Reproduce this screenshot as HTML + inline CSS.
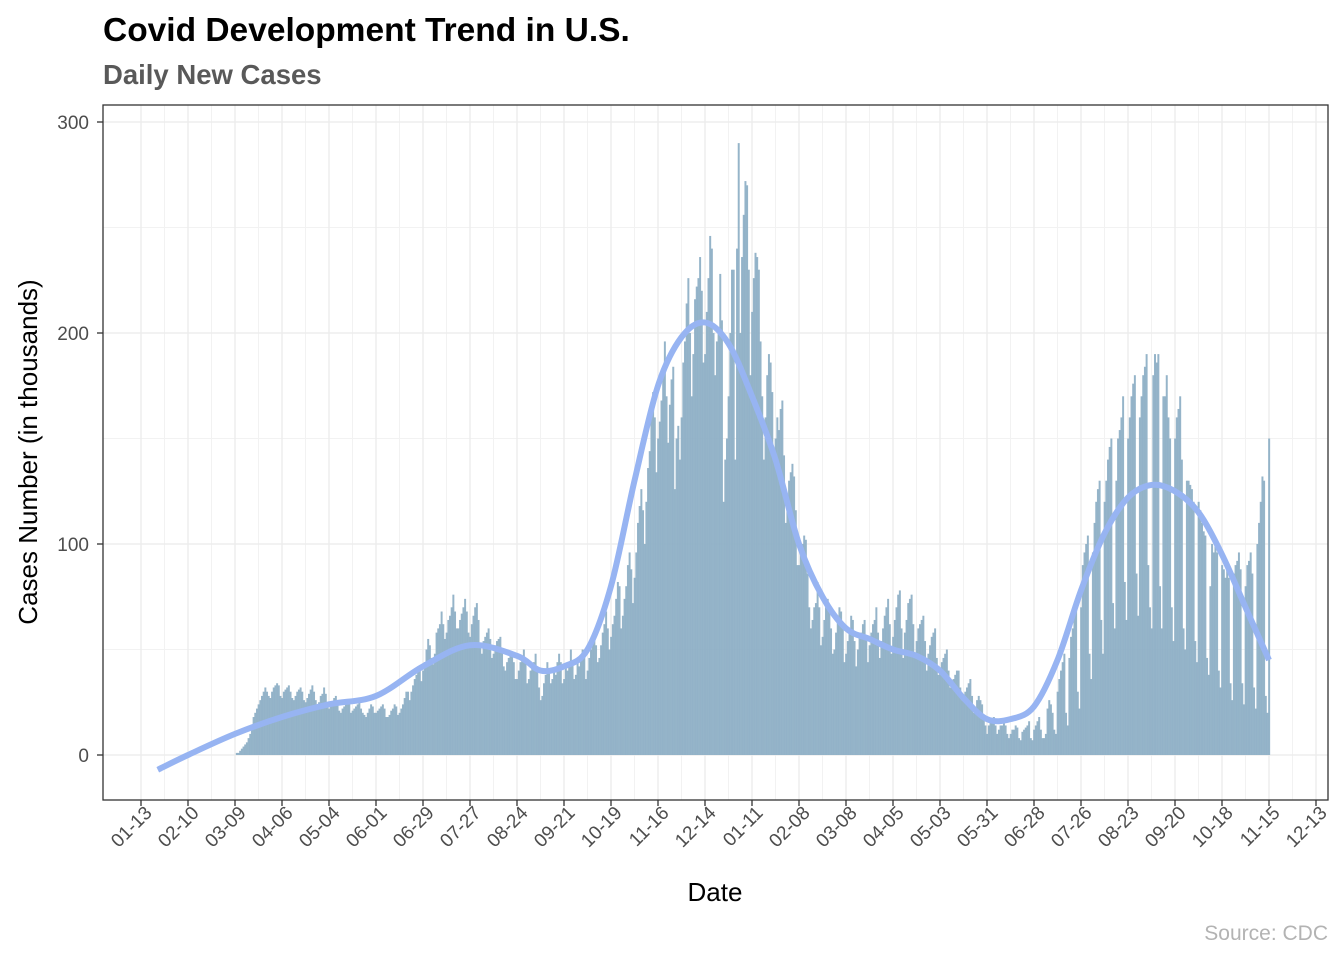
<!DOCTYPE html>
<html><head><meta charset="utf-8"><style>
html,body{margin:0;padding:0;background:#fff;}
svg{display:block;font-family:"Liberation Sans",Arial,sans-serif;}
</style></head><body>
<svg id="chart" width="1344" height="960">
<text x="103" y="41" font-size="33.5" font-weight="bold" fill="#000">Covid Development Trend in U.S.</text>
<text x="103" y="84" font-size="27.5" font-weight="bold" fill="#595959">Daily New Cases</text>
<g id="grid"></g>
<g id="bars"></g>
<path id="trend" fill="none" stroke="#97B4F2" stroke-width="6" stroke-linejoin="round"></path>
<rect x="103" y="105" width="1225" height="695" fill="none" stroke="#333" stroke-width="1.3"></rect>
<g id="axes"></g>
<text x="715" y="901" font-size="26" text-anchor="middle" fill="#000">Date</text>
<text transform="translate(37,452) rotate(-90)" font-size="26" text-anchor="middle" fill="#000">Cases Number (in thousands)</text>
<text x="1328" y="940" font-size="21" text-anchor="end" fill="#B3B3B3">Source: CDC</text>
</svg>
<script>
const yTicks=[0,100,200,300];
const xTickLabels=["01-13","02-10","03-09","04-06","05-04","06-01","06-29","07-27","08-24","09-21","10-19","11-16","12-14","01-11","02-08","03-08","04-05","05-03","05-31","06-28","07-26","08-23","09-20","10-18","11-15","12-13"];
// daily new cases (thousands) starting 2020-03-09
const dailyCases=[
0,1,1,2,3,4,5, 6,8,10,14,18,20,22, 24,26,28,30,32,30,28, 27,30,32,33,34,33,28,
27,30,31,32,33,30,27, 26,28,30,31,32,30,26, 25,27,29,31,33,30,26, 23,25,28,29,32,29,24,
22,23,25,27,28,26,21, 20,22,23,26,26,24,20, 21,22,23,24,25,22,20, 19,18,20,22,24,23,20,
20,21,22,23,24,22,18, 18,19,21,22,24,23,19, 20,22,24,27,30,30,26, 30,33,36,38,42,40,35,
40,44,50,55,52,46,43, 48,58,60,62,68,62,55, 58,64,66,70,76,68,60, 60,64,67,70,74,68,58,
56,62,66,70,72,64,52, 48,54,56,58,60,55,46, 48,52,54,55,56,50,42, 40,44,46,47,48,44,36,
36,40,44,46,50,44,34, 36,40,42,44,48,42,32, 26,28,34,38,44,40,34, 36,40,38,44,48,44,34,
36,42,40,44,50,44,36, 38,44,42,46,50,48,36, 40,46,50,56,58,52,44, 46,52,58,62,68,60,50,
56,62,66,74,82,80,60, 66,74,80,90,96,88,72, 84,96,110,118,126,116,100, 120,136,144,160,172,160,134,
150,158,168,180,196,170,148, 166,178,184,126,150,156,140, 160,186,196,214,226,200,170, 190,216,222,226,236,220,186,
190,210,226,246,240,200,180, 196,200,228,206,120,140,150, 170,200,230,230,140,240,290, 200,236,256,272,270,230,180,
210,226,238,236,230,196,170, 140,160,180,190,186,172,140, 150,160,154,164,168,142,110, 120,130,134,138,132,116,90,
90,96,100,104,102,86,70, 60,64,70,72,82,70,52, 56,64,70,74,70,60,48, 50,58,66,70,68,60,44,
48,54,60,66,64,54,42, 50,56,58,62,64,56,44, 52,58,62,64,70,58,46, 54,60,66,70,74,62,48,
56,64,70,76,78,60,46, 58,64,72,74,76,62,48, 54,60,62,64,66,54,40, 48,52,56,58,60,46,38,
40,44,46,48,50,40,32, 34,36,38,40,40,32,26, 28,30,32,34,36,28,20, 22,26,28,26,24,18,14,
10,14,16,16,18,14,10, 12,14,14,15,14,10,8, 10,12,12,14,13,8,7, 11,12,13,14,16,8,7,
12,14,16,18,12,8,8, 10,22,26,24,20,12,10, 30,36,40,44,48,20,14, 46,56,60,66,70,30,22,
70,90,96,100,104,48,36, 96,110,120,126,130,64,48, 120,130,140,146,150,72,60, 130,150,154,160,170,82,64,
150,160,170,176,180,86,66, 160,170,180,184,190,90,70, 60,180,190,186,190,80,60, 170,170,180,160,150,70,54,
150,160,164,170,140,60,50, 130,130,128,126,120,54,44, 120,116,110,106,104,46,38, 80,100,96,100,96,40,32,
90,88,84,90,84,34,26, 86,90,92,96,88,34,24, 80,90,92,96,86,32,22, 100,110,120,132,130,28,20,
150];
// smoothed trend: day offset from 2020-01-13 and value (thousands)
const trendDays=[10,28,56,84,112,140,168,196,224,238,252,266,280,294,308,322,336,350,364,378,392,406,420,434,448,462,476,490,504,518,532,546,560,574,588,602,616,630,644,658,672];
const trendVals=[-7,0,10,18,24,28,42,52,47,40,42,50,80,130,175,198,205,195,170,140,100,75,60,55,50,47,40,27,17,17,23,45,78,105,122,128,125,115,95,70,45];

const NS="http://www.w3.org/2000/svg";
const X0=141, PXD=1175/700, startOffset=56;
const xDay=d=>X0+d*PXD;
const yV=v=>755-2.11*v;
function mk(tag,attrs,parent){const e=document.createElementNS(NS,tag);for(const k in attrs)e.setAttribute(k,attrs[k]);parent.appendChild(e);return e;}
const grid=document.getElementById('grid'),axes=document.getElementById('axes'),bars=document.getElementById('bars');
[50,150,250].forEach(v=>{
  const l=mk('line',{x1:103,x2:1328,y1:yV(v),y2:yV(v),stroke:'#F2F2F2','stroke-width':1},grid);
  
  
});
for(let i=0;i<xTickLabels.length;i++){
  const x=xDay(i*28);
  const l=mk('line',{x1:x,x2:x,y1:105,y2:800,stroke:'#EBEBEB','stroke-width':1.3},grid);
  
  
  if(i<xTickLabels.length-1){
    const xm=xDay(i*28+14);
    const m=mk('line',{x1:xm,x2:xm,y1:105,y2:800,stroke:'#F2F2F2','stroke-width':1},grid);
    
    
  }
  const t=mk('line',{x1:x,x2:x,y1:800,y2:806,stroke:'#333','stroke-width':1.3},axes);
  
  
  const tx=mk('text',{transform:`translate(${x+12},814) rotate(-45)`,'text-anchor':'end','font-size':19,fill:'#4D4D4D'},axes);
  tx.textContent=xTickLabels[i];
  
  
}
yTicks.forEach(v=>{
  const y=yV(v);
  const l=mk('line',{x1:103,x2:1328,y1:y,y2:y,stroke:'#EBEBEB','stroke-width':1.3},grid);
  
  
  const t=mk('line',{x1:97,x2:103,y1:y,y2:y,stroke:'#333','stroke-width':1.3},axes);
  
  
  const tx=mk('text',{x:89,y:y+7,'text-anchor':'end','font-size':19,fill:'#4D4D4D'},axes);
  tx.textContent=v;
  
  
});
dailyCases.forEach((v,i)=>{
  const x=xDay(startOffset+i)-PXD/2;
  const r=mk('rect',{x:x,y:yV(v),width:PXD+0.3,height:Math.max(0,yV(0)-yV(v)),fill:'#8DAEC5','fill-opacity':0.93},bars);
  
  
});
const pts=trendDays.map((d,i)=>[xDay(d),yV(trendVals[i])]);
let dstr=`M${pts[0][0]},${pts[0][1]}`;
for(let i=0;i<pts.length-1;i++){
  const p0=pts[Math.max(0,i-1)],p1=pts[i],p2=pts[i+1],p3=pts[Math.min(pts.length-1,i+2)];
  const c1=[p1[0]+(p2[0]-p0[0])/6,p1[1]+(p2[1]-p0[1])/6];
  const c2=[p2[0]-(p3[0]-p1[0])/6,p2[1]-(p3[1]-p1[1])/6];
  dstr+=` C${c1[0]},${c1[1]} ${c2[0]},${c2[1]} ${p2[0]},${p2[1]}`;
}
document.getElementById('trend').setAttribute('d',dstr);
</script>
</body></html>
